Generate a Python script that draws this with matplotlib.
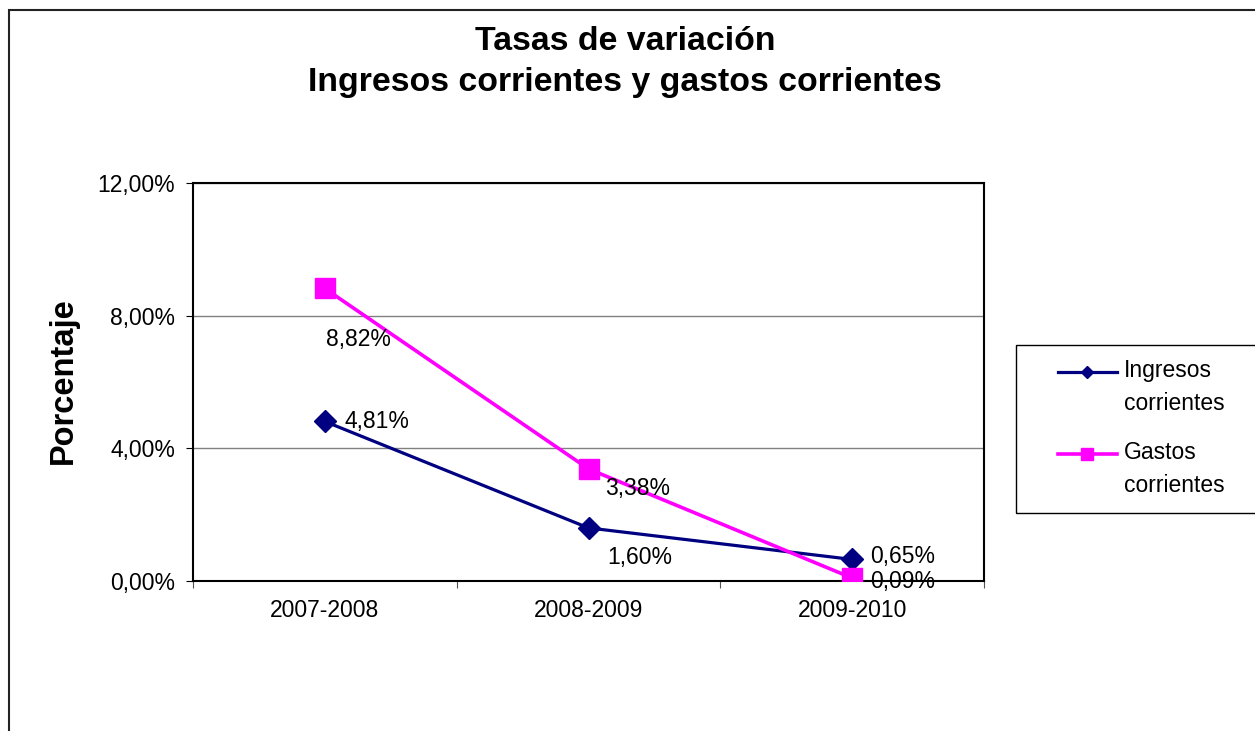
import matplotlib
matplotlib.use("Agg")
import matplotlib.pyplot as plt
from matplotlib.lines import Line2D
from matplotlib.patches import Rectangle
import numpy as np

plt.rcParams['font.family'] = ['Liberation Sans', 'DejaVu Sans']

periodos = ['2007-2008', '2008-2009', '2009-2010']
ingresos = [4.81, 1.60, 0.65]
gastos = [8.82, 3.38, 0.09]
y_ticks = [0, 4, 8, 12]

W, H = 1255, 731
fig = plt.figure(figsize=(W / 100, H / 100), dpi=100)


def fx(px):
    return px / W


def fy(py):
    return 1 - py / H


# outer chart border (runs off the right and bottom edge)
fig.add_artist(Rectangle((fx(9), fy(760)), fx(1300), fy(10) - fy(760),
                         transform=fig.transFigure, fill=False,
                         edgecolor='#222222', linewidth=1.5))

ax = fig.add_axes([fx(193), fy(581), fx(984) - fx(193), fy(183) - fy(581)])
x = np.arange(len(periodos))

c_ing = '#000080'
c_gas = '#FF00FF'
ax.plot(x, ingresos, color=c_ing, linewidth=2.3, marker='D', markersize=11,
        zorder=3)
ax.plot(x, gastos, color=c_gas, linewidth=2.6, marker='s', markersize=14,
        zorder=4)

fmt = lambda v: ('%.2f%%' % v).replace('.', ',')
off_ing = [(20, 0), (19, -30), (18, 3)]
off_gas = [(1, -51), (17, -20), (18, -3)]
for xi, v, o in zip(x, ingresos, off_ing):
    ax.annotate(fmt(v), (xi, v), xytext=o, textcoords='offset pixels',
                ha='left', va='center', fontsize=16.5, zorder=5)
for xi, v, o in zip(x, gastos, off_gas):
    ax.annotate(fmt(v), (xi, v), xytext=o, textcoords='offset pixels',
                ha='left', va='center', fontsize=16.5, zorder=5)

ax.set_xlim(-0.5, len(periodos) - 0.5)
ax.set_ylim(0, 12)
ax.set_yticks(y_ticks)
ax.set_yticklabels([fmt(t) for t in y_ticks])
ax.yaxis.grid(True, color='#808080', linewidth=1)
ax.set_axisbelow(True)

ax.set_xticks(np.arange(len(periodos) + 1) - 0.5)
ax.set_xticklabels([])
ax.set_xticks(x, minor=True)
ax.set_xticklabels(periodos, minor=True)
ax.tick_params(axis='x', which='minor', length=0, pad=13, labelsize=16.5)
ax.tick_params(axis='x', which='major', length=5, direction='out',
               color='#555555')
ax.tick_params(axis='y', length=5, direction='out', pad=8, labelsize=16.5)
for s in ax.spines.values():
    s.set_linewidth(1.5)
    s.set_color('black')

fig.text(fx(625), fy(62), 'Tasas de variación\nIngresos corrientes y gastos corrientes',
         ha='center', va='center', fontsize=24.4, fontweight='bold',
         linespacing=1.45)
fig.text(fx(63), fy(381), 'Porcentaje', rotation=90, ha='center',
         va='center', fontsize=23.5, fontweight='bold')

# legend box, also cut off at the right edge
fig.add_artist(Rectangle((fx(1016), fy(513)), fx(300), fy(345) - fy(513),
                         transform=fig.transFigure, fill=False,
                         edgecolor='black', linewidth=1))
entries = [(c_ing, 'D', 6, 2.3, 'Ingresos\ncorrientes', 372),
           (c_gas, 's', 8.5, 2.6, 'Gastos\ncorrientes', 454)]
for col, mk, ms, lw, lab, py in entries:
    fig.add_artist(Line2D([fx(1058), fx(1117)], [fy(py), fy(py)],
                          transform=fig.transFigure, color=col,
                          linewidth=lw))
    fig.add_artist(Line2D([fx(1087)], [fy(py)], transform=fig.transFigure,
                          color=col, marker=mk, markersize=ms))
    fig.text(fx(1124), fy(py - 13), lab, ha='left', va='top', fontsize=16.5,
             linespacing=1.55)

fig.savefig('out.png', dpi=100)
